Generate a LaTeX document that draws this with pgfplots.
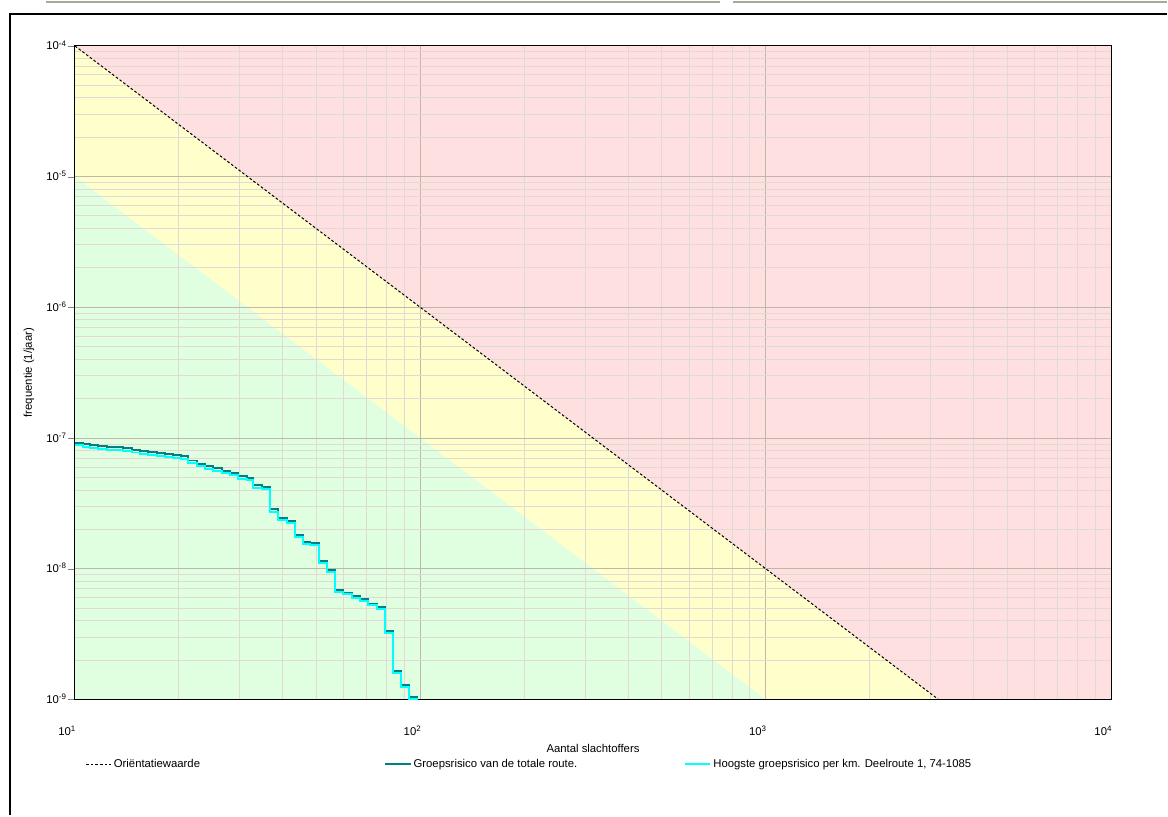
\documentclass[border=0pt]{standalone}
\usepackage{fontspec}
\setmainfont{Liberation Sans}
\usepackage{pgfplots}
\pgfplotsset{compat=1.18}
\definecolor{zred}{RGB}{255,224,224}
\definecolor{zyel}{RGB}{255,255,204}
\definecolor{zgrn}{RGB}{224,255,224}
\definecolor{teal1}{RGB}{0,128,128}
\definecolor{cyan1}{RGB}{0,255,255}
\definecolor{gmin}{RGB}{226,216,212}
\definecolor{gmaj}{RGB}{192,182,172}
\definecolor{topgray}{RGB}{172,168,153}
\begin{document}
\begin{tikzpicture}[font=\fontsize{8.5}{10}\selectfont]
\path (0,0) rectangle (876pt,612pt);
\draw[topgray, line width=1.5pt] (34.5pt,610.5pt) -- (540.75pt,610.5pt);
\draw[topgray, line width=1.5pt] (550.5pt,610.5pt) -- (876pt,610.5pt);
\draw[black, line width=1.5pt] (7.5pt,0pt) -- (7.5pt,601.5pt) -- (876pt,601.5pt);
\begin{axis}[
  set layers,
  at={(56.25pt,87pt)}, anchor=south west,
  scale only axis, width=777.75pt, height=490.5pt,
  xmode=log, ymode=log,
  xmin=10, xmax=10000, ymin=1e-9, ymax=1e-4,
  xtick={10,100,1000,10000},
  xticklabels={10\textsuperscript{1},10\textsuperscript{2},10\textsuperscript{3},10\textsuperscript{4}},
  ytick={1e-9,1e-8,1e-7,1e-6,1e-5,1e-4},
  yticklabels={10\textsuperscript{-9},10\textsuperscript{-8},10\textsuperscript{-7},10\textsuperscript{-6},10\textsuperscript{-5},10\textsuperscript{-4}},
  grid=both,
  minor grid style={gmin, line width=0.75pt},
  major grid style={gmaj, line width=0.75pt},
  tick align=outside, major tick length=5pt, minor tick length=0pt,
  xtick pos=bottom, ytick pos=left,
  xtick style={draw=none}, ytick style={gray},
  axis line style={black, line width=0.75pt},
  xticklabel style={anchor=base east, inner sep=0pt, yshift=-22pt, xshift=1pt},
  yticklabel style={anchor=base east, inner sep=0pt, yshift=-3pt, xshift=-1pt},
  xlabel={Aantal slachtoffers},
  ylabel={frequentie (1/jaar)},
  xlabel style={at={(axis description cs:0.5,-0.0757)}, anchor=center},
  ylabel style={at={(axis description cs:-0.0444,0.5)}, anchor=center},
  legend columns=3,
  legend style={at={(axis description cs:0.010,-0.099)}, anchor=west, draw=none, fill=none, inner sep=0pt, column sep=0pt, nodes={inner sep=1.5pt}},
  legend cell align=left,
  legend image code/.code={\draw[#1] (0pt,0pt) -- (19pt,0pt);},
]
% background zones
\addplot[on layer=axis background, draw=none, fill=zred, forget plot] coordinates {(10,1e-9) (10000,1e-9) (10000,1e-4) (10,1e-4)} -- cycle;
\addplot[on layer=axis background, draw=none, fill=zyel, forget plot] coordinates {(10,1e-4) (3162.28,1e-9) (10,1e-9)} -- cycle;
\addplot[on layer=axis background, draw=none, fill=zgrn, forget plot] coordinates {(10,1e-5) (1000,1e-9) (10,1e-9)} -- cycle;
% orientation value
\addplot[black, line width=0.75pt, dash pattern=on 2pt off 1.5pt] coordinates {(10,1e-4) (3162.28,1e-9)};
\addlegendentry{\makebox[201.5pt][l]{Oriëntatiewaarde}}
% total route
\addplot[teal1, line width=1.5pt, const plot] coordinates {
(10,9.24e-8) (10.55,9.02e-8) (11.05,8.86e-8) (11.66,8.70e-8) (12.38,8.59e-8)
(13.06,8.47e-8) (13.77,8.38e-8) (14.63,8.16e-8) (15.43,7.95e-8) (16.28,7.78e-8)
(17.29,7.70e-8) (18.24,7.58e-8) (19.23,7.45e-8) (20.29,7.32e-8) (21.26,6.73e-8)
(22.58,6.36e-8) (23.81,6.10e-8) (25.12,5.87e-8) (26.66,5.62e-8) (28.14,5.44e-8)
(29.68,5.10e-8) (31.52,4.98e-8) (32.81,4.35e-8) (34.83,4.24e-8) (36.74,2.84e-8)
(38.76,2.44e-8) (41.17,2.32e-8) (43.42,1.80e-8) (45.80,1.60e-8) (48.0,1.56e-8)
(50.96,1.14e-8) (53.76,9.72e-9) (56.71,6.83e-9) (59.82,6.56e-9) (63.52,6.18e-9)
(67.01,5.83e-9) (70.68,5.40e-9) (75.06,5.09e-9) (79.17,3.33e-9) (83.52,1.64e-9)
(88.10,1.28e-9) (92.92,1.04e-9) (98.67,1.04e-9)};
\addlegendentry{\makebox[201.5pt][l]{Groepsrisico van de totale route.}}
% highest per km
\addplot[cyan1, line width=1.5pt, const plot] coordinates {
(10,8.78e-8) (10.55,8.57e-8) (11.05,8.42e-8) (11.66,8.27e-8) (12.38,8.16e-8)
(13.06,8.05e-8) (13.77,7.96e-8) (14.63,7.75e-8) (15.43,7.55e-8) (16.28,7.39e-8)
(17.29,7.32e-8) (18.24,7.20e-8) (19.23,7.08e-8) (20.29,6.95e-8) (21.26,6.42e-8)
(22.58,6.07e-8) (23.81,5.83e-8) (25.12,5.61e-8) (26.66,5.37e-8) (28.14,5.20e-8)
(29.68,4.90e-8) (31.52,4.78e-8) (32.81,4.18e-8) (34.83,4.07e-8) (36.74,2.74e-8)
(38.76,2.35e-8) (41.17,2.24e-8) (43.42,1.74e-8) (45.80,1.55e-8) (48.0,1.51e-8)
(50.96,1.10e-8) (53.76,9.40e-9) (56.71,6.63e-9) (59.82,6.36e-9) (63.52,6.00e-9)
(67.01,5.66e-9) (70.68,5.24e-9) (75.06,4.94e-9) (79.17,3.23e-9) (83.52,1.59e-9)
(88.10,1.24e-9) (92.92,1.01e-9) (98.67,1.01e-9)};
\addlegendentry{Hoogste groepsrisico per km. Deelroute 1, 74-1085}
\end{axis}
\end{tikzpicture}
\end{document}
